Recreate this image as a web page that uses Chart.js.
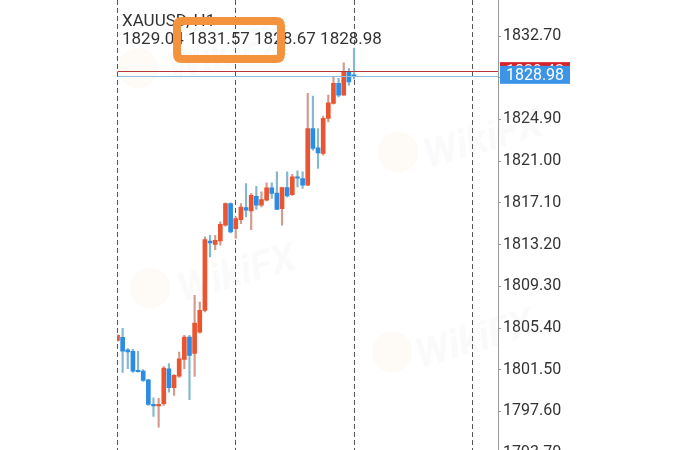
<!DOCTYPE html>
<html><head><meta charset="utf-8">
<script src="https://cdn.jsdelivr.net/npm/chart.js@4/dist/chart.umd.min.js"></script>
<style>html,body{margin:0;padding:0;background:#fff;overflow:hidden}canvas{display:block}</style>
</head><body>
<canvas id="c" width="700" height="450"></canvas>
<script>
const symbolTitle = "XAUUSD, H1";
const hours = ["01:00","02:00","03:00","04:00","05:00","06:00","07:00","08:00","09:00","10:00","11:00","12:00",
  "13:00","14:00","15:00","16:00","17:00","18:00","19:00","20:00","21:00","22:00","23:00",
  "01:00","02:00","03:00","04:00","05:00","06:00","07:00","08:00","09:00","10:00","11:00","12:00",
  "13:00","14:00","15:00","16:00","17:00","18:00","19:00","20:00","21:00","22:00","23:00","01:00"];
const opens = [1804.25,1804.53,1803.36,1803.22,1801.44,1801.37,1800.57,1798.26,1798.12,1798.32,1801.60,1799.82,1800.91,1802.47,1804.56,1803.03,1805.02,1807.05,1813.54,1813.23,1813.54,1815.01,1817.04,1814.70,1815.54,1816.67,1816.35,1817.72,1816.88,1817.35,1818.50,1818.03,1816.57,1818.54,1817.88,1819.53,1819.38,1818.75,1824.06,1822.25,1821.72,1825.00,1826.40,1828.27,1827.18,1829.30,1829.04];
const highs = [1804.81,1805.37,1803.47,1803.40,1803.22,1801.53,1800.60,1798.88,1798.82,1801.81,1802.07,1801.06,1803.15,1804.71,1804.71,1808.46,1807.83,1813.92,1814.07,1814.07,1815.32,1817.10,1817.10,1815.79,1817.04,1818.91,1817.98,1818.66,1818.13,1818.97,1818.97,1820.00,1818.54,1820.00,1819.78,1820.09,1820.00,1827.34,1827.08,1824.06,1825.21,1827.18,1828.89,1828.74,1830.20,1829.68,1831.57];
const lows = [1804.15,1801.25,1801.60,1801.25,1801.28,1800.41,1798.16,1797.13,1796.13,1798.16,1799.41,1799.10,1800.78,1801.60,1798.70,1800.88,1804.93,1806.90,1812.04,1812.74,1813.14,1814.92,1814.29,1813.79,1815.17,1815.79,1814.61,1816.48,1816.72,1817.28,1817.51,1816.48,1815.01,1817.66,1817.80,1818.60,1818.45,1818.71,1822.03,1820.32,1821.56,1824.68,1826.34,1827.02,1827.18,1828.11,1828.67];
const closes = [1804.71,1803.24,1803.17,1801.37,1801.32,1800.50,1798.26,1798.12,1798.26,1801.65,1799.82,1800.97,1802.53,1804.56,1802.84,1805.87,1807.05,1813.67,1813.35,1813.61,1815.10,1817.04,1814.38,1815.64,1816.72,1816.41,1817.82,1816.88,1817.42,1818.50,1817.98,1816.48,1818.54,1817.75,1819.53,1819.41,1818.75,1824.06,1822.19,1821.78,1825.00,1826.46,1828.27,1827.18,1829.36,1828.42,1828.98];
const yTicks = [1793.70,1797.60,1801.50,1805.40,1809.30,1813.20,1817.10,1821.00,1824.90,1828.80,1832.70];
const daySeparators = [0, 23, 46, 69];
const bidPrice = 1828.98;
const askPrice = 1829.42;

const BULL = '#EA5430', BEAR = '#2C8BE2', BULL_WICK = '#D49A8C', BEAR_WICK = '#84B8CE';
const isBull = opens.map((o, i) => closes[i] >= o);
const wickData = hours.map((h, i) => ({x: i, y: [lows[i], highs[i]]}));
const bodyData = hours.map((h, i) => ({x: i, y: [opens[i], closes[i]]}));

const watermarks = [
  {lx: 138, ly: 68, tx: 172, ty: 82},
  {lx: 398, ly: 152, tx: 428, ty: 168},
  {lx: 150, ly: 288, tx: 182, ty: 302},
  {lx: 392, ly: 352, tx: 420, ty: 368}
];

function roundRect(ctx, x, y, w, h, r) {
  ctx.beginPath();
  ctx.moveTo(x + r, y);
  ctx.lineTo(x + w - r, y); ctx.quadraticCurveTo(x + w, y, x + w, y + r);
  ctx.lineTo(x + w, y + h - r); ctx.quadraticCurveTo(x + w, y + h, x + w - r, y + h);
  ctx.lineTo(x + r, y + h); ctx.quadraticCurveTo(x, y + h, x, y + h - r);
  ctx.lineTo(x, y + r); ctx.quadraticCurveTo(x, y, x + r, y);
  ctx.closePath();
}

const overlay = {
  id: 'overlay',
  beforeDatasetsDraw(chart) {
    const ctx = chart.ctx;
    ctx.save();
    ctx.beginPath(); ctx.rect(chart.chartArea.left, 0, 700, 450); ctx.clip();
    for (const w of watermarks) {
      ctx.fillStyle = 'rgba(246,170,80,0.06)';
      ctx.beginPath(); ctx.arc(w.lx, w.ly, 20, 0, Math.PI * 2); ctx.fill();
      ctx.save();
      ctx.translate(w.tx, w.ty); ctx.rotate(-0.28);
      ctx.font = 'bold italic 40px Roboto';
      ctx.fillStyle = 'rgba(190,190,190,0.08)';
      ctx.fillText('WikiFX', 0, 0);
      ctx.restore();
    }
    ctx.restore();
  },
  afterDatasetsDraw(chart) {
    const {ctx, chartArea, scales: {y}} = chart;
    ctx.save();
    const ya = Math.round(y.getPixelForValue(askPrice)) + 0.5;
    const yb = Math.round(y.getPixelForValue(bidPrice)) + 0.5;
    ctx.lineWidth = 1;
    ctx.strokeStyle = '#B8383A';
    ctx.beginPath(); ctx.moveTo(chartArea.left, ya); ctx.lineTo(chartArea.right, ya); ctx.stroke();
    ctx.strokeStyle = '#8DBFE3';
    ctx.beginPath(); ctx.moveTo(chartArea.left, yb); ctx.lineTo(chartArea.right, yb); ctx.stroke();
    ctx.restore();
  },
  afterDraw(chart) {
    const {ctx, chartArea, scales: {y}} = chart;
    ctx.save();
    const ya = y.getPixelForValue(askPrice), yb = y.getPixelForValue(bidPrice);
    ctx.font = '16px Roboto';
    ctx.textAlign = 'center'; ctx.textBaseline = 'middle';
    ctx.fillStyle = '#D4232B';
    ctx.fillRect(chartArea.right + 2, ya - 9, 70, 18);
    ctx.fillStyle = '#fff'; ctx.fillText(askPrice.toFixed(2), chartArea.right + 37, ya + 1);
    ctx.fillStyle = '#3B94E6';
    ctx.fillRect(chartArea.right + 2, yb - 10, 70, 18);
    ctx.fillStyle = '#fff'; ctx.fillText(bidPrice.toFixed(2), chartArea.right + 37, yb);
    const last = hours.length - 1;
    ctx.textAlign = 'left'; ctx.textBaseline = 'alphabetic';
    ctx.fillStyle = '#333';
    ctx.font = '17px Roboto';
    ctx.fillText(symbolTitle, chartArea.left + 4.5, 26);
    ctx.fillText([opens[last], highs[last], lows[last], closes[last]].map(v => v.toFixed(2)).join(' '), chartArea.left + 4.5, 43.5);
    ctx.strokeStyle = '#F5923E';
    ctx.lineWidth = 8;
    roundRect(ctx, 177, 21, 104, 38, 5);
    ctx.stroke();
    ctx.restore();
  }
};

new Chart(document.getElementById('c'), {
  type: 'bar',
  data: {
    datasets: [
      {
        label: 'wick', data: wickData, grouped: false, barThickness: 1.5,
        backgroundColor: isBull.map(b => b ? BULL_WICK : BEAR_WICK), borderWidth: 0, minBarLength: 1, order: 2
      },
      {
        label: 'body', data: bodyData, grouped: false, barThickness: 4,
        backgroundColor: isBull.map(b => b ? BULL : BEAR), borderWidth: 0, minBarLength: 1, order: 1
      }
    ]
  },
  options: {
    responsive: false,
    animation: false,
    devicePixelRatio: 1,
    layout: {padding: {left: 117.5, right: 0, top: 0, bottom: 0}},
    plugins: {legend: {display: false}, tooltip: {enabled: false}, title: {display: false}},
    scales: {
      x: {
        type: 'linear', min: 0, max: 74, offset: false,
        ticks: {display: false, autoSkip: false},
        afterBuildTicks: s => { s.ticks = daySeparators.map(v => ({value: v})); },
        afterFit: s => { s.height = 0; },
        grid: {display: true, offset: false, drawTicks: false, color: '#555', lineWidth: 1},
        border: {display: false, dash: [5, 3]}
      },
      y: {
        position: 'right', min: 1794.0, max: 1836.07,
        afterBuildTicks: s => { s.ticks = yTicks.map(v => ({value: v})); },
        afterFit: s => { s.width = 202; s.paddingTop = 0; s.paddingBottom = 0; },
        ticks: {autoSkip: false, padding: 2, color: '#333', font: {family: 'Roboto', size: 16},
          callback: v => Number(v).toFixed(2)},
        grid: {drawOnChartArea: false, offset: false, drawTicks: true, tickLength: 3, tickColor: '#999'},
        border: {display: true, color: '#9a9a9a', width: 1}
      }
    }
  },
  plugins: [overlay]
});
</script>
</body></html>
